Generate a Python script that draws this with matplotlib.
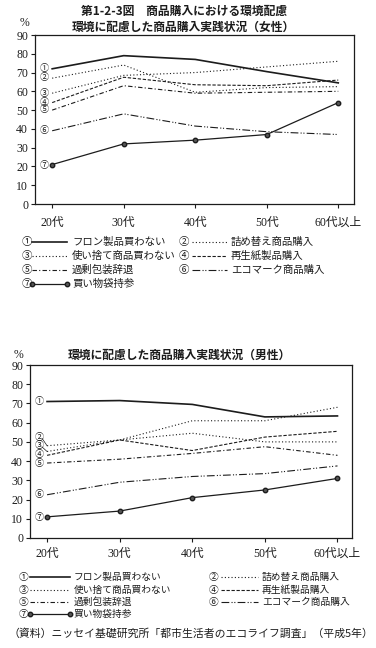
import numpy as np
import matplotlib
matplotlib.use("Agg")
import matplotlib.pyplot as plt

plt.rcParams['font.family'] = ['Noto Sans CJK JP', 'DejaVu Sans']

# ---- data ----
ages = ['20代', '30代', '40代', '50代', '60代以上']
marks = ['①', '②', '③', '④', '⑤', '⑥', '⑦']
names = ['フロン製品買わない', '詰め替え商品購入', '使い捨て商品買わない',
         '再生紙製品購入', '過剰包装辞退', 'エコマーク商品購入', '買い物袋持参']

female_1 = [72, 79, 77, 70.5, 64.5]
female_2 = [67, 74, 59.5, 62, 62.5]
female_3 = [59, 68.5, 70, 73, 76]
female_4 = [54, 67.5, 63.5, 63, 66]
female_5 = [50, 63, 59, 59.5, 60]
female_6 = [39, 48, 41.5, 38.5, 37]
female_7 = [21, 32, 34, 37, 54]

male_1 = [71, 71.5, 69.5, 63, 63.5]
male_2 = [48, 51, 61, 61, 68]
male_3 = [45, 51, 54.5, 50, 50]
male_4 = [43, 51, 45.5, 52.5, 55.5]
male_5 = [39, 41, 44, 47.5, 43]
male_6 = [22.5, 29, 32, 33.5, 37.5]
male_7 = [11, 14, 21, 25, 31]

female = [female_1, female_2, female_3, female_4, female_5, female_6, female_7]
male = [male_1, male_2, male_3, male_4, male_5, male_6, male_7]

# where the circled numbers sit next to the 20代 end
female_lab = [72, 67.5, 59, 54.3, 50.2, 39, 20.5]
male_lab = [71, 52.5, 48, 43.5, 39, 22.5, 10.5]

ink = '#1c1c1c'
styles = [
    dict(ls='-', lw=1.2),
    dict(ls=(0, (1, 2)), lw=0.8),
    dict(ls=(0, (1, 2)), lw=0.8),
    dict(ls=(0, (3, 1.5)), lw=0.8),
    dict(ls=(0, (4, 2, 1, 2)), lw=0.8),
    dict(ls=(0, (7, 2, 1, 1.5, 1, 2)), lw=0.8),
    dict(ls='-', lw=0.9, marker='o', ms=3.2, mfc='#555555', mec=ink),
]

serif = ['Liberation Serif', 'Noto Sans CJK JP']

W, H = 376, 648
fig = plt.figure(figsize=(W / 100, H / 100), dpi=100)


def make_axes(left, right, top, bottom, xl, xr, xpad):
    ax = fig.add_axes([left / W, 1 - bottom / H, (right - left) / W, (bottom - top) / H])
    ax.set_xlim(xl, xr)
    ax.set_ylim(0, 90)
    ax.set_yticks(np.arange(0, 91, 10))
    ax.set_xticks(range(len(ages)))
    ax.set_xticklabels(ages, family=serif, fontsize=8.5)
    for lab in ax.get_yticklabels():
        lab.set_family(serif)
        lab.set_fontsize(8.5)
    ax.tick_params(direction='out', length=3, width=0.8, colors=ink, pad=2)
    ax.tick_params(axis='x', pad=xpad)
    for s in ax.spines.values():
        s.set_linewidth(0.9)
        s.set_color(ink)
    return ax


def draw(ax, series, labs, leader=()):
    x = np.arange(len(ages))
    for i, vals in enumerate(series):
        ax.plot(x, vals, color=ink, **styles[i])
        ax.text(-0.11, labs[i], marks[i], fontsize=6.5, ha='center', va='center', color=ink)
        if i in leader:
            ax.plot([-0.07, 0], [labs[i] - 0.6, vals[0]], color=ink, lw=0.5)


ax1 = make_axes(35, 354, 35, 204, -0.24, 4.22, 6)
draw(ax1, female, female_lab)
ax2 = make_axes(30, 352, 365, 538, -0.235, 4.2, 4)
draw(ax2, male, male_lab, leader=(1, 2))

# overlay in pixel units for titles and legends
lay = fig.add_axes([0, 0, 1, 1])
lay.set_xlim(0, W)
lay.set_ylim(H, 0)
lay.axis('off')

lay.text(184, 11, '第1-2-3図　商品購入における環境配慮', fontsize=8.5,
         fontweight='bold', ha='center', va='center', color=ink)
lay.text(183, 27, '環境に配慮した商品購入実践状況（女性）', fontsize=8.5,
         fontweight='bold', ha='center', va='center', color=ink)
lay.text(24, 23, '%', fontsize=8.5, family=serif, ha='center', va='center', color=ink)
lay.text(179, 355, '環境に配慮した商品購入実践状況（男性）', fontsize=8.5,
         fontweight='bold', ha='center', va='center', color=ink)
lay.text(19, 355, '%', fontsize=8.5, family=serif, ha='center', va='center', color=ink)


def legend(rows, cols, fs):
    for i in range(len(names)):
        r, c = i // 2, i % 2
        y = rows[r]
        cx, x0, x1, tx = cols[c]
        lay.text(cx, y, marks[i], fontsize=fs, ha='center', va='center', color=ink)
        st = dict(styles[i])
        if 'marker' in st:
            st['markevery'] = [0, 1]
        lay.plot([x0, x1], [y, y], color=ink, **st)
        lay.text(tx, y, names[i], fontsize=fs, ha='left', va='center', color=ink)


legend([242, 256, 270, 284],
       [(27, 32, 67, 72), (184, 192, 227, 231)], 7.5)
legend([577, 590, 602, 614],
       [(24, 30, 70, 74), (214, 221, 258, 262)], 7.0)

lay.text(8, 633, '（資料）ニッセイ基礎研究所「都市生活者のエコライフ調査」（平成5年）',
         fontsize=7.8, ha='left', va='center', color=ink)

fig.savefig('out.png', dpi=100)
